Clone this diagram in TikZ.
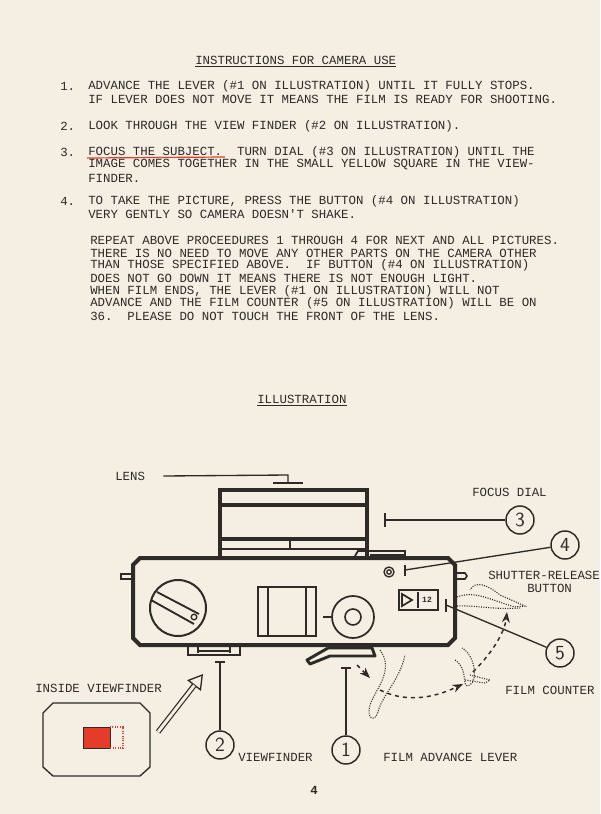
\documentclass[tikz,border=0pt]{standalone}
\usepackage{fontspec}
\setmonofont{Liberation Mono}
\usetikzlibrary{arrows.meta}
\definecolor{paper}{RGB}{244,239,226}
\definecolor{ink}{RGB}{45,42,40}
\definecolor{redm}{RGB}{228,60,40}
\tikzset{
 txt/.style={anchor=west,inner sep=0pt,font=\fontsize{9.3}{10}\selectfont\ttfamily,text=ink},
 thick3/.style={draw=ink,line width=3pt},
 thin1/.style={draw=ink,line width=1pt},
 num/.style={circle,draw=ink,line width=1.1pt,minimum size=28*0.75pt,inner sep=0pt,font=\fontsize{15}{15}\selectfont\sffamily,text=ink},
 ghost/.style={draw=ink,densely dotted,line width=0.8pt},
 dasharrow/.style={draw=ink,dashed,line width=1.1pt,-{Stealth[open]}}
}
\begin{document}
\begin{tikzpicture}[x=0.75pt,y=-0.75pt]
\fill[paper] (0,0) rectangle (600,814);
\useasboundingbox (0,0) rectangle (600,814);
% texts
\node[txt] (title) at (195,60) {INSTRUCTIONS FOR CAMERA USE};
\draw[thin1,line width=0.6pt] (195,66) -- (396,66);
\node[txt] (n1) at (60,86) {1.};
\node[txt] (t1a) at (88,86) {ADVANCE THE LEVER (\#1 ON ILLUSTRATION) UNTIL IT FULLY STOPS.};
\node[txt] (t1b) at (88,99) {IF LEVER DOES NOT MOVE IT MEANS THE FILM IS READY FOR SHOOTING.};
\node[txt] (n2) at (60,126) {2.};
\node[txt] (t2) at (88,126) {LOOK THROUGH THE VIEW FINDER (\#2 ON ILLUSTRATION).};
\node[txt] (n3) at (60,152) {3.};
\node[txt] (t3a) at (88,152) {FOCUS THE SUBJECT.\ \ TURN DIAL (\#3 ON ILLUSTRATION) UNTIL THE};
\draw[redm,line width=0.9pt] (87,158) -- (225,157);
\node[txt] (t3b) at (88,165) {IMAGE COMES TOGETHER IN THE SMALL YELLOW SQUARE IN THE VIEW-};
\node[txt] (t3c) at (88,178) {FINDER.};
\node[txt] (n4) at (60,201) {4.};
\node[txt] (t4a) at (88,201) {TO TAKE THE PICTURE, PRESS THE BUTTON (\#4 ON ILLUSTRATION)};
\node[txt] (t4b) at (88,214) {VERY GENTLY SO CAMERA DOESN'T SHAKE.};
\node[txt] (p1) at (90,240) {REPEAT ABOVE PROCEEDURES 1 THROUGH 4 FOR NEXT AND ALL PICTURES.};
\node[txt] (p2) at (90,253) {THERE IS NO NEED TO MOVE ANY OTHER PARTS ON THE CAMERA OTHER};
\node[txt] (p3) at (90,265) {THAN THOSE SPECIFIED ABOVE.\ \ IF BUTTON (\#4 ON ILLUSTRATION)};
\node[txt] (p4) at (90,278) {DOES NOT GO DOWN IT MEANS THERE IS NOT ENOUGH LIGHT.};
\node[txt] (p5) at (90,291) {WHEN FILM ENDS, THE LEVER (\#1 ON ILLUSTRATION) WILL NOT};
\node[txt] (p6) at (90,303) {ADVANCE AND THE FILM COUNTER (\#5 ON ILLUSTRATION) WILL BE ON};
\node[txt] (p7) at (90,316) {36.\ \ PLEASE DO NOT TOUCH THE FRONT OF THE LENS.};
\node[txt] (ill) at (257,399) {ILLUSTRATION};
\draw[thin1,line width=0.6pt] (257,405) -- (347,405);
% labels
\node[txt] (lens) at (115,476) {LENS};
\node[txt] (focus) at (472,492) {FOCUS DIAL};
\node[txt] (shut) at (488,575) {SHUTTER-RELEASE};
\node[txt] (butt) at (527,588) {BUTTON};
\node[txt] (fc) at (505,690) {FILM COUNTER};
\node[txt] (iv) at (35,688) {INSIDE VIEWFINDER};
\node[txt] (vf) at (238,757) {VIEWFINDER};
\node[txt] (fal) at (383,757) {FILM ADVANCE LEVER};
\node[txt,font=\fontsize{9.3}{10}\selectfont\ttfamily\bfseries] (pg) at (310,790) {4};
% lens housing
\draw[thick3] (220,558) -- (220,490) -- (367,490) -- (367,558);
\draw[thick3] (222,505) -- (365,505);
\draw[thick3] (222,539) -- (365,539);
\draw[thin1] (222,549) -- (365,549);
\draw[thick3,line width=2.2pt] (290,539) -- (290,549);
% shutter button
\draw[thin1,line width=1.4pt] (355,556) -- (358,551) -- (405,551) -- (405,555) -- (370,555);
% body
\draw[thick3] (140,558) -- (448,558) -- (455,565) -- (455,638) -- (448,645) -- (140,645) -- (133,638) -- (133,565) -- cycle;
\draw[thin1,line width=1.2pt] (133,574) -- (121,574) -- (121,579) -- (133,579);
\draw[thin1,line width=1.2pt] (455,573) -- (465,573) -- (467,576) -- (465,579) -- (455,579);
% dial
\node[circle,draw=ink,line width=1.5pt,minimum size=56*0.75pt,inner sep=0pt] (dial) at (178,608) {};
\draw[thin1,line width=1.4pt] (157,592) -- (199,614);
\draw[thin1,line width=1.4pt] (151,600) -- (194,624);
\draw[thin1] (194,617) circle[radius=2.8];
% viewfinder window
\draw[thin1,line width=1.3pt] (258,587) rectangle (316,636);
\draw[thin1] (268,587) -- (268,636);
\draw[thin1] (306,587) -- (306,636);
% round
\node[circle,draw=ink,line width=1.3pt,minimum size=42*0.75pt,inner sep=0pt] (rnd) at (353,617) {};
\draw[thin1,line width=1.2pt] (353,617) circle[radius=8];
\draw[thin1] (323,617) -- (332,617);
% small button
\draw[thin1] (389,572) circle[radius=5];
\draw[thin1] (389,572) circle[radius=2.2];
% counter
\draw[thick3,line width=2.2pt] (399,590) rectangle (438,610);
\draw[thin1] (418,592) -- (418,608);
\draw[thin1,line width=1.3pt] (402,594) -- (402,606) -- (412,600) -- cycle;
\node[inner sep=0pt,font=\fontsize{6}{6}\selectfont\ttfamily\bfseries,text=ink] (twelve) at (427,600) {12};
% bottom parts
\draw[thick3,line width=2.2pt] (188,645) -- (188,655) -- (240,655) -- (240,645);
\draw[thin1] (198,645) -- (198,653);
\draw[thin1] (230,645) -- (230,653);
\draw[thin1] (199,651) -- (229,651);
\draw[thick3,line width=2.2pt,line join=round] (328,648) -- (372,648) -- (375,656) -- (330,656) -- (310,664) -- (307,660) -- (328,648);
\draw[thin1] (353,645) -- (353,648);
% callouts
\coordinate (lensbar) at (288,483);
\draw[thin1] (lens.east) ++(18,0) -- (288,475) -- (lensbar);
\draw[thin1] (273,483) -- (303,483);
\node[num] (c3) at (520,520) {3};
\draw[thin1] (385,513) -- (385,527);
\draw[thin1] (385,520) -- (c3);
\node[num] (c4) at (565,545) {4};
\draw[thin1] (405,565) -- (405,576);
\draw[thin1] (405,570) -- (c4);
\node[num] (c5) at (560,653) {5};
\draw[thin1] (446,599) -- (446,612);
\draw[thin1] (446,605) -- (c5);
\node[num] (c2) at (220,745) {2};
\draw[thin1] (215,662) -- (225,662);
\draw[thin1] (220,662) -- (c2);
\node[num] (c1) at (346,750) {1};
\draw[thin1] (341,668) -- (351,668);
\draw[thin1] (346,668) -- (c1);
% hollow arrow
\draw[ink,line width=4pt,-{Triangle[open,length=11pt,width=13pt,line width=1pt]}] (158,732) -- (203,674);
\draw[paper,line width=2.2pt,shorten >=7pt] (158,732) -- (200,678);
% inside viewfinder
\draw[thin1] (53,703) -- (140,703) -- (150,713) -- (150,767) -- (140,776) -- (53,776) -- (43,767) -- (43,713) -- cycle;
\fill[redm] (83,727) rectangle (110,748);
\draw[ink,line width=0.7pt] (83,727) rectangle (110,748);
\draw[redm,densely dotted,line width=0.8pt] (110,727) -- (123,727) -- (123,748) -- (110,748);
% ghost levers
\draw[ghost] (380,650) .. controls (395,670) and (375,690) .. (370,705) .. controls (366,720) and (375,722) .. (378,712) .. controls (382,695) and (400,680) .. (405,655);
\draw[ghost] (455,660) .. controls (470,670) and (460,690) .. (470,685) .. controls (478,680) and (475,655) .. (462,648);
\draw[ghost] (465,680) -- (485,683) -- (490,680) -- (470,675);
\draw[ghost] (457,597) .. controls (475,590) and (490,600) .. (515,607) -- (525,606) -- (500,595) .. controls (488,585) and (475,580) .. (470,590);
\draw[ghost] (457,606) .. controls (475,605) and (495,610) .. (520,608);
% dashed arrows
\draw[dasharrow] (357,665) -- (370,678);
\draw[dasharrow] (380,690) .. controls (410,705) and (440,695) .. (463,684);
\draw[dasharrow] (473,672) .. controls (495,650) and (505,630) .. (507,612);
\end{tikzpicture}
\end{document}
